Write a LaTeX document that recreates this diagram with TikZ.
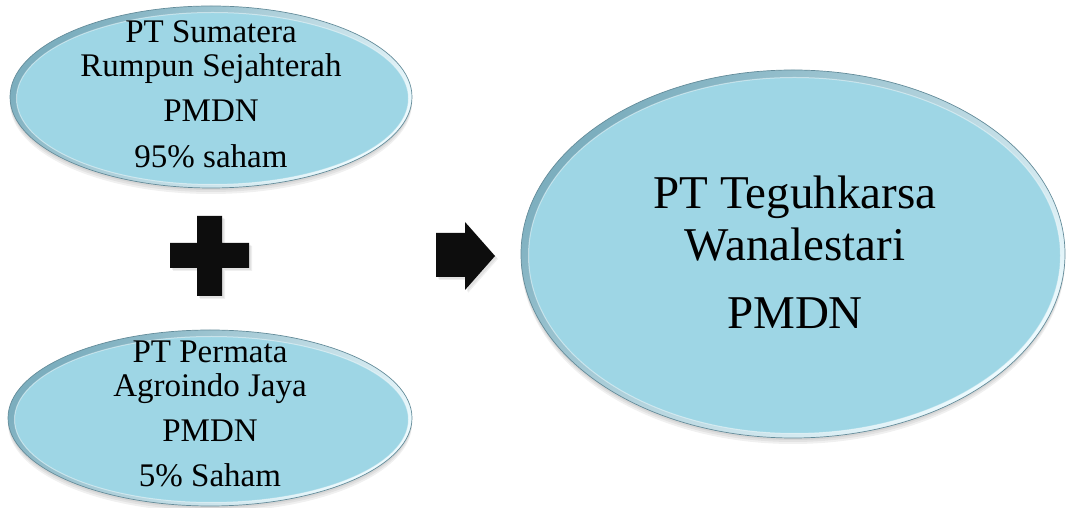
\documentclass[tikz,border=0pt]{standalone}
\usepackage{fontspec}
\setmainfont{Liberation Serif}
\usetikzlibrary{shapes.geometric}
\definecolor{fillblue}{RGB}{158,214,229}
\definecolor{rimdark}{RGB}{124,174,190}
\definecolor{rimlight}{RGB}{236,250,254}
\definecolor{edgeline}{RGB}{100,140,154}
\tikzset{
  oval/.style={ellipse, inner sep=0pt, outer sep=0pt, draw=edgeline, line width=0.7pt,
    top color=rimdark, bottom color=rimlight, shading angle=45},
  ovalin/.style={ellipse, inner sep=0pt, outer sep=0pt, fill=fillblue, draw=white, draw opacity=0.45, line width=1pt},
  smalltext/.style={font=\fontsize{33}{36}\selectfont, anchor=base, inner sep=0pt},
  bigtext/.style={font=\fontsize{47}{52}\selectfont, anchor=base, inner sep=0pt},
  glyph/.style={fill=black!95},
  softshadow/.style={fill=black, opacity=0.06},
}
\begin{document}
\begin{tikzpicture}[x=1pt,y=1pt]
\useasboundingbox (0,0) rectangle (1070,508);
% shadows
\foreach \d in {2,4,6}{
  \fill[softshadow] (211,411-\d) ellipse [x radius=201, y radius=91];
  \fill[softshadow] (210,90-\d) ellipse [x radius=202, y radius=88];
  \fill[softshadow] (793,254-\d) ellipse [x radius=272, y radius=184];
}
\foreach \d in {2,3}{
  \fill[softshadow] (170+\d,240-\d) -- (197+\d,240-\d) -- (197+\d,212-\d) -- (222+\d,212-\d) -- (222+\d,240-\d) -- (249+\d,240-\d) -- (249+\d,265-\d) -- (222+\d,265-\d) -- (222+\d,292-\d) -- (197+\d,292-\d) -- (197+\d,265-\d) -- (170+\d,265-\d) -- cycle;
  \fill[softshadow] (436+\d,231-\d) -- (465+\d,231-\d) -- (465+\d,218-\d) -- (495+\d,252-\d) -- (465+\d,286-\d) -- (465+\d,275-\d) -- (436+\d,275-\d) -- cycle;
}
% ellipses
\node[oval, minimum width=402pt, minimum height=182pt] (ellA) at (211,411) {};
\node[ovalin, minimum width=392pt, minimum height=172pt] (ellAin) at (212.5,409.5) {};
\node[oval, minimum width=404pt, minimum height=176pt] (ellB) at (210,90) {};
\node[ovalin, minimum width=394pt, minimum height=166pt] (ellBin) at (211.5,88.5) {};
\node[oval, minimum width=544pt, minimum height=368pt] (ellC) at (793,254) {};
\node[ovalin, minimum width=532pt, minimum height=356pt] (ellCin) at (794.5,252.5) {};
% texts
\node[smalltext] (a1) at (211,465) {PT Sumatera};
\node[smalltext] (a2) at (211,431) {Rumpun Sejahterah};
\node[smalltext] (a3) at (211,386) {PMDN};
\node[smalltext] (a4) at (211,340) {95\% saham};
\node[smalltext] (b1) at (210,145) {PT Permata};
\node[smalltext] (b2) at (210,111) {Agroindo Jaya};
\node[smalltext] (b3) at (210,66) {PMDN};
\node[smalltext] (b4) at (210,21) {5\% Saham};
\node[bigtext] (c1) at (795,299) {PT Teguhkarsa};
\node[bigtext] (c2) at (795,247) {Wanalestari};
\node[bigtext] (c3) at (795,179) {PMDN};
% plus sign
\fill[glyph] (170,240) -- (197,240) -- (197,212) -- (222,212) -- (222,240) -- (249,240) -- (249,265) -- (222,265) -- (222,292) -- (197,292) -- (197,265) -- (170,265) -- cycle;
% block arrow
\fill[glyph] (436,231) -- (465,231) -- (465,218) -- (495,252) -- (465,286) -- (465,275) -- (436,275) -- cycle;
\end{tikzpicture}
\end{document}
